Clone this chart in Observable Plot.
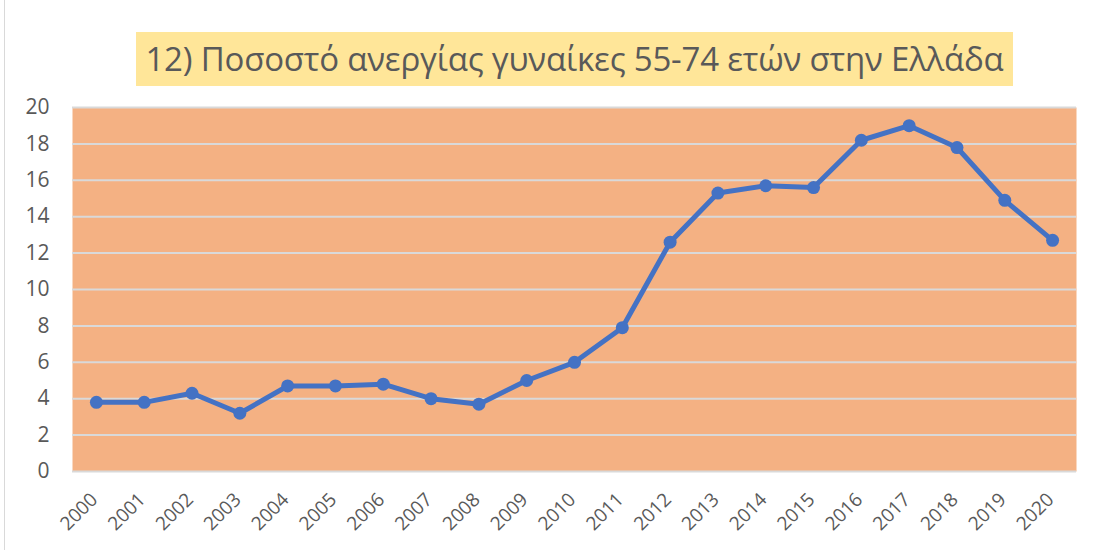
<!DOCTYPE html>
<html>
<head>
<meta charset="utf-8">
<script src="https://cdn.jsdelivr.net/npm/d3@7"></script>
<script src="https://cdn.jsdelivr.net/npm/@observablehq/plot@0.6"></script>
<style>
  html, body { margin: 0; padding: 0; background: #fff; }
  #wrap { position: relative; width: 1094px; height: 550px; overflow: hidden; font-family: "Open Sans", sans-serif; }
  #border { position: absolute; left: 4px; top: 0; width: 1px; height: 550px; background: #d9d9d9; }
  #titlebar { height: 85px; position: relative; }
  #title { position: absolute; left: 136px; top: 32px; width: 877px; height: 54px; background: #FFE699;
           color: #595959; font-size: 33px; line-height: 54px; text-align: center; white-space: nowrap; letter-spacing: -0.2px; }
  #chart { position: relative; }
</style>
</head>
<body>
<div id="wrap">
  <div id="border"></div>
  <div id="titlebar"><div id="title">12) Ποσοστό ανεργίας γυναίκες 55-74 ετών στην Ελλάδα</div></div>
  <div id="chart"></div>
</div>
<script>
const years = ["2000","2001","2002","2003","2004","2005","2006","2007","2008","2009","2010","2011","2012","2013","2014","2015","2016","2017","2018","2019","2020"];
const values = [3.8, 3.8, 4.3, 3.2, 4.7, 4.7, 4.8, 4.0, 3.7, 5.0, 6.0, 7.9, 12.6, 15.3, 15.7, 15.6, 18.2, 19.0, 17.8, 14.9, 12.7];
const yTicks = [0, 2, 4, 6, 8, 10, 12, 14, 16, 18, 20];

const data = years.map((y, i) => ({year: y, value: values[i]}));

const chart = Plot.plot({
  width: 1094,
  height: 465,
  marginTop: 22,
  marginBottom: 79,
  marginLeft: 72,
  marginRight: 18,
  style: {fontFamily: "Open Sans, sans-serif", color: "#595959", background: "transparent", overflow: "visible"},
  x: {type: "point", domain: years, padding: 0.5, round: false, label: null},
  y: {domain: [0, 20], ticks: yTicks, label: null},
  marks: [
    Plot.frame({fill: "#F4B183", stroke: null}),
    Plot.ruleY(yTicks, {stroke: "#D9D9D9", strokeWidth: 2}),
    Plot.axisY({ticks: yTicks, tickSize: 0, tickPadding: 23, fontSize: 21, fill: "#595959"}),
    Plot.axisX({tickSize: 0, tickRotate: -45, tickPadding: 25, fontSize: 19, fill: "#595959", dx: -2}),
    Plot.line(data, {x: "year", y: "value", stroke: "#4472C4", strokeWidth: 5, strokeLinejoin: "round"}),
    Plot.dot(data, {x: "year", y: "value", fill: "#4472C4", r: 6.5})
  ]
});
document.getElementById("chart").appendChild(chart);
</script>
</body>
</html>
